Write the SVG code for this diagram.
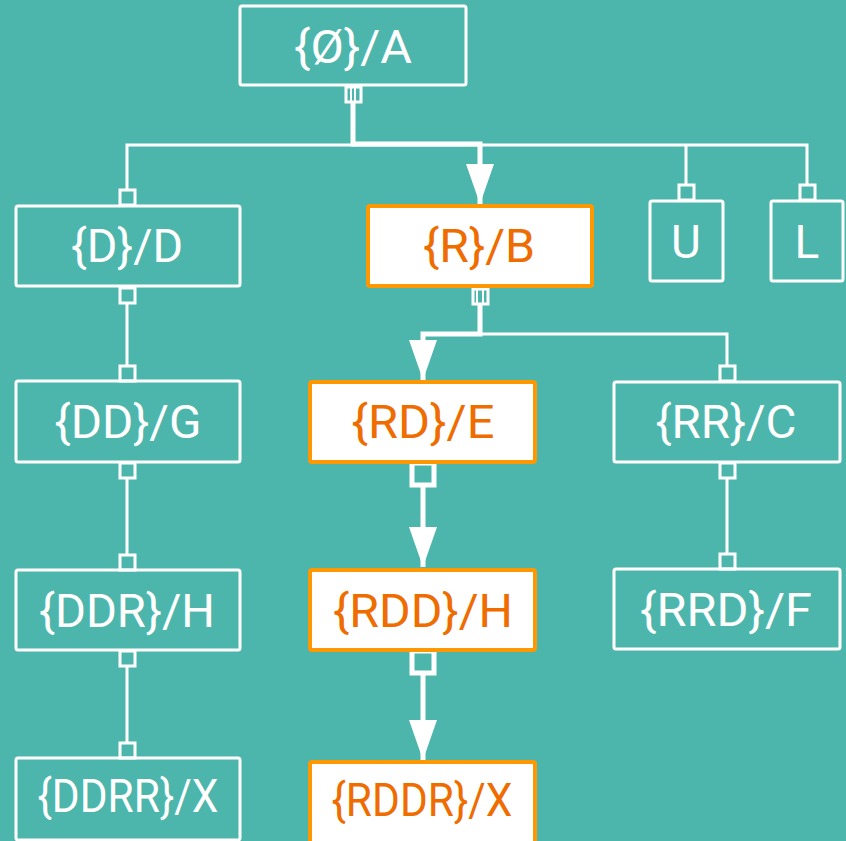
<svg xmlns="http://www.w3.org/2000/svg" width="846" height="841" viewBox="0 0 846 841">
  <defs>
    <style>
      .bg { fill: #4db6ac; }
      .node rect.box { fill: none; stroke: #ffffff; stroke-width: 3; }
      .node text { font-family: Roboto, "Liberation Sans", sans-serif; font-size: 46px; fill: #ffffff; text-anchor: middle; }
      .node.hl rect.box { fill: #ffffff; stroke: #ff9800; stroke-width: 4; }
      .node.hl text { fill: #ef6c00; }
      .port { fill: #4db6ac; stroke: #ffffff; stroke-width: 3; }
      .port.big { stroke-width: 5; }
      .edge { fill: none; stroke: #ffffff; stroke-width: 3; }
      .edge.main { stroke-width: 5; }
      .tick { stroke: #ffffff; stroke-width: 2; }
    </style>
    <marker id="arrow" markerUnits="userSpaceOnUse" markerWidth="42" markerHeight="30" viewBox="0 0 42 30" refX="41" refY="15" orient="auto">
      <polygon points="1,1 41,15 1,29" fill="#ffffff"/>
    </marker>
  </defs>

  <rect class="bg" x="0" y="0" width="846" height="841"/>

  <!-- connectors -->
  <g id="connectors">
    <!-- A to D / U / L -->
    <path class="edge" d="M353,101 V145 H127 V190"/>
    <path class="edge" d="M353,145 H807 V185"/>
    <path class="edge" d="M686,145 V185"/>
    <!-- A to B (followed) -->
    <path class="edge main" d="M353,101 V144 H480 V204" marker-end="url(#arrow)"/>
    <!-- D chain -->
    <path class="edge" d="M127,302 V366"/>
    <path class="edge" d="M127,478 V555"/>
    <path class="edge" d="M127,666 V743"/>
    <!-- B to E (followed) and B to C -->
    <path class="edge" d="M480,334 H727 V366"/>
    <path class="edge main" d="M480,303 V334 H423 V380" marker-end="url(#arrow)"/>
    <!-- C to F -->
    <path class="edge" d="M727,478 V555"/>
    <!-- E to H to X (followed) -->
    <path class="edge main" d="M423,487 V567" marker-end="url(#arrow)"/>
    <path class="edge main" d="M423,675 V760" marker-end="url(#arrow)"/>

    <!-- ports -->
    <rect class="port" x="346" y="87" width="15" height="15"/>
    <line class="tick" x1="351" y1="88" x2="351" y2="101"/>
    <line class="tick" x1="355" y1="88" x2="355" y2="101"/>
    <rect class="port" x="120" y="190" width="15" height="15"/>
    <rect class="port" x="679" y="185" width="15" height="15"/>
    <rect class="port" x="800" y="185" width="15" height="15"/>
    <rect class="port" x="120" y="288" width="15" height="15"/>
    <rect class="port" x="120" y="366" width="15" height="15"/>
    <rect class="port" x="120" y="463" width="15" height="15"/>
    <rect class="port" x="120" y="555" width="15" height="15"/>
    <rect class="port" x="120" y="651" width="15" height="15"/>
    <rect class="port" x="120" y="743" width="15" height="15"/>
    <rect class="port" x="473" y="289" width="15" height="15"/>
    <line class="tick" x1="477" y1="290" x2="477" y2="303"/>
    <line class="tick" x1="483" y1="290" x2="483" y2="303"/>
    <rect class="port" x="720" y="366" width="15" height="15"/>
    <rect class="port" x="720" y="463" width="15" height="15"/>
    <rect class="port" x="720" y="554" width="15" height="15"/>
    <rect class="port big" x="412" y="463" width="22" height="22"/>
    <rect class="port big" x="412" y="651" width="22" height="22"/>
  </g>

  <!-- nodes -->
  <g id="node-A" class="node">
    <rect class="box" x="240" y="6" width="226" height="79" rx="2"/>
    <text x="353" y="63" textLength="118" lengthAdjust="spacingAndGlyphs">{Ø}/A</text>
  </g>
  <g id="node-D" class="node">
    <rect class="box" x="16" y="206" width="224" height="80" rx="2"/>
    <text x="127" y="262" textLength="112" lengthAdjust="spacingAndGlyphs">{D}/D</text>
  </g>
  <g id="node-B" class="node hl">
    <rect class="box" x="368" y="206" width="224" height="80" rx="2"/>
    <text x="479" y="262" textLength="112" lengthAdjust="spacingAndGlyphs">{R}/B</text>
  </g>
  <g id="node-U" class="node">
    <rect class="box" x="650" y="201" width="73" height="80" rx="2"/>
    <text x="686" y="258">U</text>
  </g>
  <g id="node-L" class="node">
    <rect class="box" x="771" y="201" width="72" height="80" rx="2"/>
    <text x="807" y="258">L</text>
  </g>
  <g id="node-G" class="node">
    <rect class="box" x="16" y="381" width="224" height="81" rx="2"/>
    <text x="128" y="438" textLength="147" lengthAdjust="spacingAndGlyphs">{DD}/G</text>
  </g>
  <g id="node-E" class="node hl">
    <rect class="box" x="310" y="382" width="225" height="80" rx="2"/>
    <text x="423" y="438" textLength="143" lengthAdjust="spacingAndGlyphs">{RD}/E</text>
  </g>
  <g id="node-C" class="node">
    <rect class="box" x="614" y="382" width="226" height="80" rx="2"/>
    <text x="726" y="438" textLength="141" lengthAdjust="spacingAndGlyphs">{RR}/C</text>
  </g>
  <g id="node-H1" class="node">
    <rect class="box" x="16" y="570" width="224" height="80" rx="2"/>
    <text x="127" y="627" textLength="176" lengthAdjust="spacingAndGlyphs">{DDR}/H</text>
  </g>
  <g id="node-H2" class="node hl">
    <rect class="box" x="310" y="570" width="225" height="80" rx="2"/>
    <text x="423" y="627" textLength="180" lengthAdjust="spacingAndGlyphs">{RDD}/H</text>
  </g>
  <g id="node-F" class="node">
    <rect class="box" x="614" y="569" width="226" height="80" rx="2"/>
    <text x="726" y="626" textLength="172" lengthAdjust="spacingAndGlyphs">{RRD}/F</text>
  </g>
  <g id="node-X1" class="node">
    <rect class="box" x="16" y="758" width="224" height="82" rx="2"/>
    <text x="128" y="812" textLength="181" lengthAdjust="spacingAndGlyphs">{DDRR}/X</text>
  </g>
  <g id="node-X2" class="node hl">
    <rect class="box" x="310" y="762" width="225" height="82" rx="2"/>
    <text x="422" y="816" textLength="181" lengthAdjust="spacingAndGlyphs">{RDDR}/X</text>
  </g>
</svg>
